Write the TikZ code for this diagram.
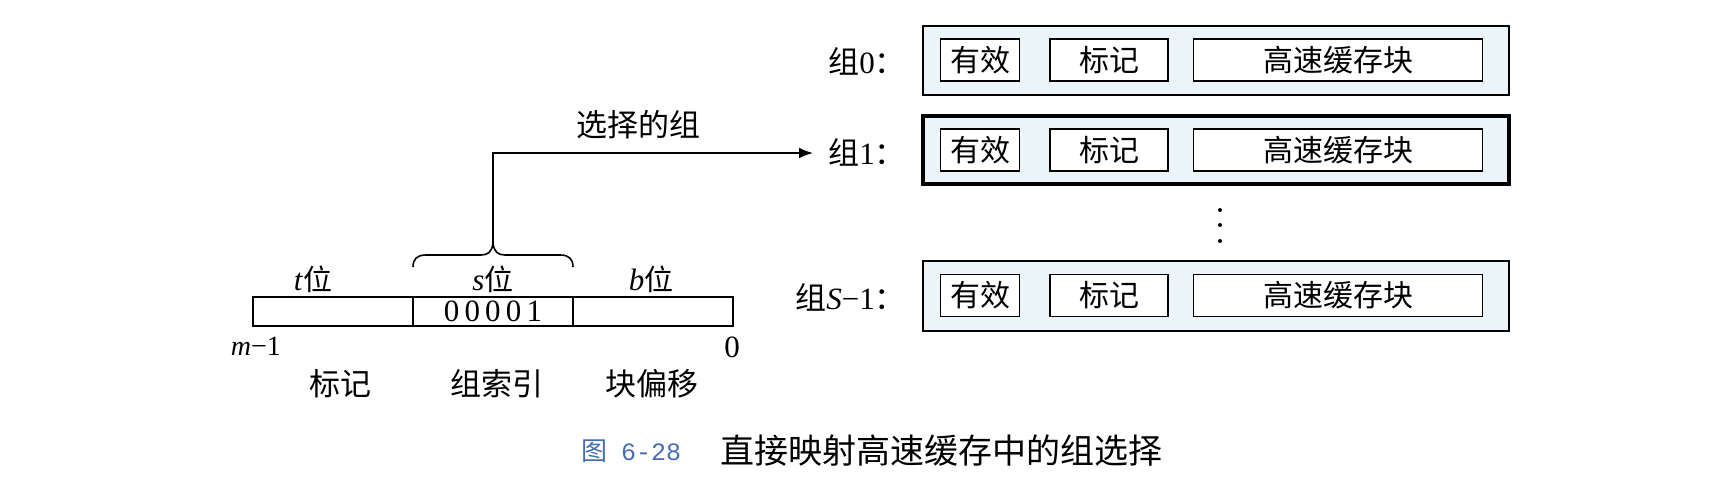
\documentclass[tikz,border=0pt]{standalone}
\usepackage{fontspec}
\setmainfont{Liberation Serif}
\newfontfamily\cjk{Noto Sans CJK SC}
\newfontfamily\capmono{Liberation Mono}
\usetikzlibrary{arrows.meta}
\definecolor{setfill}{RGB}{234,244,249}
\definecolor{capblue}{RGB}{70,110,180}
\begin{document}
\begin{tikzpicture}[x=1pt,y=-1pt,
  setbox/.style={draw, line width=2.2pt, fill=setfill, inner sep=0pt, minimum width=586pt, minimum height=69pt},
  cellbox/.style={draw, line width=1.8pt, fill=white, inner sep=0pt, minimum height=42pt, font=\cjk\fontsize{30}{31}\selectfont},
  lbl/.style={inner sep=0pt, font=\fontsize{31}{34}\selectfont},
  cjklbl/.style={inner sep=0pt, font=\cjk\fontsize{31}{32}\selectfont},
  barcell/.style={draw, line width=1.8pt, inner sep=0pt, minimum height=29pt, minimum width=160pt}]
\useasboundingbox (0,0) rectangle (1711,481);
\fill[white] (0,0) rectangle (1711,481);

% sets
\node[setbox] (s0) at (1216,60.5) {};
\node[setbox, line width=4pt, minimum height=68pt] (s1) at (1216,150) {};
\node[setbox, minimum height=70pt] (sS) at (1216,296) {};

\foreach \n/\y in {0/60,1/150,S/295.5}{
  \node[cellbox, minimum width=79pt] (v\n) at (980,\y) {有效};
  \node[cellbox, minimum width=118pt] (t\n) at (1109,\y) {标记};
  \node[cellbox, minimum width=289pt] (b\n) at (1338,\y) {高速缓存块};
}

\node[lbl, anchor=east] (l0) at (906,61) {{\cjk 组}0{\cjk ：}};
\node[lbl, anchor=east] (l1) at (906,152) {{\cjk 组}1{\cjk ：}};
\node[lbl, anchor=east] (lS) at (906,297) {{\cjk 组}\textit{S}−1{\cjk ：}};

% dots
\foreach \y in {210,225,241} \fill (1220,\y) circle (2pt);

% address bar
\node[barcell] (tb) at (333,311.5) {};
\node[barcell] (sb) at (493,311.5) {\fontsize{31}{32}\selectfont 0\,0\,0\,0\,1};
\node[barcell] (bb) at (653,311.5) {};

\node[lbl] (tl) at (313,279) {\textit{t}{\cjk\fontsize{29}{30}\selectfont 位}};
\node[lbl] (sl) at (493,279) {\textit{s}{\cjk\fontsize{29}{30}\selectfont 位}};
\node[lbl] (bl) at (651,279) {\textit{b}{\cjk\fontsize{29}{30}\selectfont 位}};

\node[lbl, font=\fontsize{28}{30}\selectfont, anchor=east] (m1) at (281,346) {\textit{m}−1};
\node[lbl, font=\fontsize{31}{32}\selectfont] (z0) at (732,347) {0};

\node[cjklbl] (n1) at (340,384) {标记};
\node[cjklbl] (n2) at (497,384) {组索引};
\node[cjklbl] (n3) at (652,384) {块偏移};

% brace
\coordinate (bra) at (413,267);
\coordinate (brb) at (573,267);
\coordinate (btip) at (493,243);
\draw[line width=1.6pt] (bra) .. controls (413,259) and (417,255) .. (426,255)
  -- (481,255) .. controls (488,255) and (492,252) .. (btip)
  .. controls (494,252) and (498,255) .. (505,255) -- (560,255)
  .. controls (569,255) and (573,259) .. (brb);

% arrow
\node[cjklbl] (sel) at (638,125) {选择的组};
\coordinate (atip) at (813,153);
\draw[line width=1.8pt, -{Latex[length=14pt,width=11pt]}] (btip) |- (atip);

% caption
\node[inner sep=0pt, font=\cjk\fontsize{26}{28}\selectfont, text=capblue] (fig) at (594,451) {图};
\node[inner sep=0pt, font=\capmono\fontsize{25}{28}\selectfont, text=capblue] (fnum) at (651,452) {6-28};
\node[inner sep=0pt, font=\cjk\fontsize{34}{36}\selectfont, anchor=west] (cap) at (720,451) {直接映射高速缓存中的组选择};
\end{tikzpicture}
\end{document}
